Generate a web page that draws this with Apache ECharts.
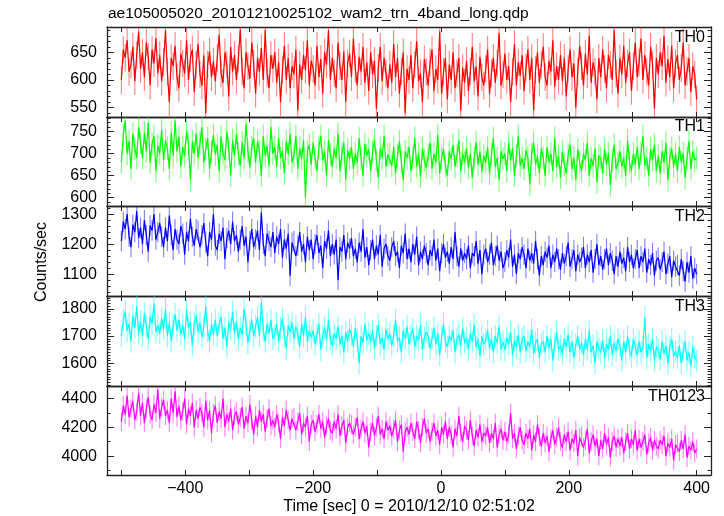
<!DOCTYPE html>
<html><head><meta charset="utf-8">
<script src="https://cdn.jsdelivr.net/npm/echarts@6/dist/echarts.min.js"></script>
<style>html,body{margin:0;padding:0;background:#fff}#c{width:724px;height:516px}</style>
</head><body><div id="c"></div>
<script>
// ---- data (1 value every 3 s) ----
const titleText = 'ae105005020_20101210025102_wam2_trn_4band_long.qdp';
const xAxisName = 'Time [sec] 0 = 2010/12/10 02:51:02';
const yAxisName = 'Counts/sec';
const binStart = -500, binStep = 3;
const panelNames = ['TH0', 'TH1', 'TH2', 'TH3', 'TH0123'];
const panelColors = ['#ff0000', '#00ff00', '#0000ff', '#00ffff', '#ff00ff'];
const xTicks = [-500, -400, -300, -200, -100, 0, 100, 200, 300, 400];
const xLabels = [-400, -200, 0, 200, 400];
const yRanges = [[533, 696], [581, 783], [1027, 1327], [1517, 1847], [3869, 4487]];
const yMajor = [[550, 600, 650], [600, 650, 700, 750], [1100, 1200, 1300], [1600, 1700, 1800], [4000, 4200, 4400]];
const yMinorStep = [10, 10, 20, 10, 100];
const errSize = [25, 26, 34, 41, 65];

const th0 = [
600,655,640,672,615,628,660,598,645,688,
620,650,605,668,642,590,655,630,676,612,
645,598,632,690,615,560,640,625,662,605,
585,648,630,612,672,600,640,655,578,628,
665,610,590,645,540,628,652,605,634,598,
640,682,612,595,650,628,570,660,615,645,
600,638,692,615,585,650,625,602,668,630,
575,640,615,658,600,690,612,585,645,620,
650,595,632,560,618,662,600,640,585,625,
610,655,545,628,600,645,618,672,590,635,
620,590,662,605,638,575,650,628,690,600,
640,612,585,668,625,600,652,560,630,648,
605,675,620,590,642,615,660,595,632,580,
650,610,635,548,622,660,598,640,612,585,
628,595,665,605,640,575,615,650,540,620,
600,645,585,628,670,598,612,560,638,615,
590,632,655,580,620,600,688,575,615,640,
565,628,600,650,585,612,640,545,622,595,
635,580,615,660,598,625,570,642,605,590,
620,655,575,612,640,595,630,685,590,610,
648,600,625,560,615,665,590,632,608,645,
580,622,655,600,640,545,618,650,595,628,
660,605,590,635,615,672,588,625,600,645,
598,640,570,620,655,605,630,550,615,662,
625,590,648,610,680,595,632,615,565,640,
605,655,620,585,645,628,600,690,612,575,
640,610,662,595,630,650,580,625,668,605,
632,675,600,645,615,590,660,628,548,640,
610,650,625,680,595,638,605,662,585,630,
645,600,622,668,590,615,640,578,625,610,
565];
const th1 = [
680,742,775,700,728,665,745,712,690,760,
725,690,748,705,770,680,722,740,660,718,
700,755,685,730,712,665,748,695,775,705,
738,670,715,695,752,720,640,728,700,745,
690,725,760,680,710,735,665,705,742,698,
720,660,738,700,685,750,712,650,730,695,
745,700,672,725,690,768,705,668,715,735,
680,728,705,650,740,695,718,672,760,700,
715,670,735,690,705,655,728,700,745,680,
695,740,665,712,688,730,600,705,720,675,
725,690,660,715,740,685,705,650,730,698,
670,712,690,745,660,700,725,640,708,688,
715,665,700,680,735,690,650,722,695,710,
660,705,730,685,645,712,690,740,670,698,
700,672,715,655,695,728,680,640,705,690,
715,660,690,735,670,700,648,712,685,668,
695,725,665,700,680,742,655,690,710,672,
650,705,688,720,670,695,730,660,700,680,
712,668,700,645,690,725,675,705,660,695,
680,715,655,698,735,670,690,640,705,688,
700,660,725,685,712,650,695,740,672,690,
665,708,690,630,700,725,675,695,655,712,
690,650,715,680,700,660,735,670,695,645,
705,675,655,698,720,665,690,640,710,680,
660,700,685,725,650,690,672,712,635,695,
690,655,710,675,700,628,685,720,665,680,
705,670,690,650,730,680,660,700,675,715,
665,700,740,672,690,650,710,685,720,660,
695,655,705,680,725,640,690,712,670,700,
660,715,680,700,645,690,728,665,705,685,
690];
const th2 = [
1210,1275,1250,1300,1225,1190,1265,1240,1310,1220,
1255,1200,1280,1230,1175,1262,1245,1300,1215,1240,
1270,1225,1190,1255,1210,1295,1230,1180,1250,1215,
1200,1260,1235,1165,1240,1210,1285,1225,1195,1250,
1245,1190,1230,1270,1205,1160,1240,1215,1300,1195,
1180,1235,1210,1255,1150,1220,1245,1200,1275,1210,
1230,1175,1215,1260,1195,1225,1140,1210,1250,1190,
1215,1245,1180,1305,1200,1160,1235,1210,1190,1240,
1170,1225,1200,1250,1155,1215,1185,1235,1095,1205,
1210,1160,1195,1240,1175,1200,1140,1225,1180,1215,
1150,1200,1230,1170,1195,1120,1210,1185,1245,1160,
1200,1165,1215,1080,1190,1175,1230,1150,1205,1185,
1220,1160,1185,1140,1205,1175,1250,1155,1190,1130,
1180,1215,1150,1195,1165,1230,1125,1185,1200,1160,
1145,1190,1210,1160,1175,1120,1195,1170,1235,1150,
1185,1140,1200,1165,1225,1130,1175,1150,1195,1170,
1130,1180,1160,1215,1145,1185,1110,1170,1200,1155,
1175,1135,1190,1150,1240,1160,1125,1185,1145,1170,
1150,1195,1120,1170,1160,1210,1135,1180,1100,1165,
1185,1140,1165,1205,1130,1160,1195,1145,1175,1120,
1140,1180,1155,1215,1125,1165,1100,1170,1150,1190,
1165,1120,1185,1145,1170,1135,1210,1150,1095,1160,
1130,1175,1155,1195,1120,1165,1140,1185,1150,1115,
1170,1135,1160,1205,1125,1150,1180,1110,1165,1140,
1155,1190,1120,1165,1140,1180,1105,1150,1200,1130,
1160,1115,1150,1185,1130,1170,1145,1100,1160,1125,
1175,1135,1155,1110,1190,1140,1165,1120,1150,1180,
1120,1160,1140,1185,1105,1150,1130,1170,1095,1145,
1155,1115,1140,1175,1100,1135,1160,1090,1145,1125,
1130,1095,1150,1110,1075,1140,1105,1160,1085,1120,
1100];
const th3 = [
1700,1760,1790,1720,1745,1680,1775,1730,1810,1710,
1755,1700,1785,1735,1690,1770,1745,1820,1715,1740,
1710,1765,1725,1800,1700,1750,1680,1740,1780,1720,
1760,1705,1740,1690,1795,1730,1750,1665,1745,1775,
1715,1750,1695,1735,1810,1720,1680,1745,1705,1760,
1700,1745,1770,1690,1730,1660,1750,1725,1790,1710,
1755,1690,1730,1705,1800,1740,1675,1720,1760,1700,
1735,1770,1700,1825,1720,1680,1745,1710,1760,1690,
1705,1745,1680,1730,1765,1700,1655,1740,1715,1750,
1690,1735,1710,1660,1745,1700,1770,1680,1720,1695,
1720,1670,1705,1745,1650,1700,1730,1685,1760,1690,
1665,1710,1690,1735,1670,1700,1640,1715,1680,1725,
1705,1660,1730,1690,1600,1700,1675,1745,1685,1710,
1680,1720,1655,1700,1740,1670,1695,1650,1725,1690,
1710,1665,1700,1760,1680,1695,1640,1720,1690,1735,
1670,1705,1725,1660,1700,1685,1740,1650,1695,1715,
1700,1655,1690,1730,1670,1710,1630,1695,1745,1680,
1660,1700,1685,1720,1640,1690,1705,1665,1730,1675,
1695,1650,1710,1680,1740,1660,1690,1625,1700,1670,
1685,1720,1655,1690,1640,1700,1675,1735,1650,1680,
1650,1695,1670,1715,1630,1685,1660,1705,1640,1690,
1700,1645,1680,1660,1725,1635,1675,1690,1620,1670,
1680,1640,1700,1655,1690,1610,1670,1715,1650,1665,
1635,1690,1660,1705,1640,1680,1620,1670,1700,1650,
1675,1630,1690,1650,1720,1640,1665,1600,1680,1655,
1640,1685,1620,1670,1650,1700,1630,1675,1645,1690,
1665,1610,1680,1640,1700,1650,1625,1690,1660,1630,
1680,1640,1660,1770,1620,1670,1645,1690,1610,1660,
1650,1615,1680,1635,1665,1600,1660,1690,1625,1645,
1620,1665,1600,1645,1680,1610,1640,1590,1660,1625,
1610];
const th0123 = [
4240,4350,4290,4420,4270,4330,4380,4250,4310,4440,
4280,4370,4230,4330,4410,4290,4250,4360,4300,4460,
4260,4340,4390,4280,4320,4230,4400,4300,4450,4270,
4350,4250,4310,4400,4220,4330,4280,4370,4200,4320,
4260,4340,4300,4200,4380,4250,4320,4160,4300,4350,
4230,4310,4260,4400,4200,4290,4240,4330,4180,4280,
4310,4220,4270,4340,4190,4280,4230,4360,4250,4150,
4280,4200,4320,4240,4290,4170,4260,4330,4210,4250,
4200,4290,4230,4120,4270,4210,4320,4250,4180,4260,
4270,4180,4240,4300,4150,4230,4200,4280,4100,4220,
4250,4170,4220,4290,4190,4240,4130,4210,4260,4180,
4160,4240,4190,4290,4140,4210,4250,4090,4200,4230,
4220,4150,4200,4270,4120,4190,4240,4160,4210,4060,
4170,4230,4140,4200,4280,4150,4190,4120,4240,4180,
4210,4140,4190,4250,4100,4180,4220,4030,4170,4200,
4150,4230,4170,4120,4240,4180,4090,4200,4260,4160,
4190,4100,4170,4230,4140,4180,4080,4200,4150,4240,
4120,4200,4150,4060,4190,4140,4280,4160,4100,4210,
4180,4110,4250,4140,4070,4180,4130,4220,4100,4160,
4140,4200,4090,4160,4120,4230,4060,4150,4190,4110,
4170,4100,4150,4300,4120,4160,4050,4140,4200,4110,
4080,4160,4120,4190,4040,4150,4100,4220,4130,4070,
4160,4090,4140,4030,4120,4180,4080,4130,4200,4100,
4060,4150,4100,4170,4040,4120,4090,4180,4000,4130,
4140,4060,4110,4190,4020,4100,4150,4070,4120,4000,
4110,4050,4160,4080,4130,3990,4100,4140,4060,4120,
4070,4130,4020,4100,4160,4050,4120,4080,4180,4040,
4120,4060,4100,4150,4010,4090,4130,4040,4110,4070,
4050,4110,4080,4140,4000,4090,4060,4120,3970,4080,
4090,4030,4110,4050,4150,3990,4070,4040,4100,4020,
4050];
const seriesValues = [th0, th1, th2, th3, th0123];

// ---- layout ----
const FONT = '"Liberation Sans", Helvetica, Arial, sans-serif';
const gridTops = [27, 117, 206, 296, 386];
const gridHeights = [90, 89, 90, 90, 90];
const GL = 107, GR = 13;
const XMIN = -522.5, XMAX = 422.5;

function minorList(gi) {
  const out = [];
  const [a, b] = yRanges[gi];
  const s = yMinorStep[gi];
  for (let v = Math.ceil(a / s) * s; v <= b; v += s) out.push(v);
  return out;
}
const fmtX = v => (v < 0 ? '\u2212' + (-v) : String(v));
const fmtY = v => String(v);

const grid = [], xAxis = [], yAxis = [], series = [];
for (let gi = 0; gi < 5; gi++) {
  grid.push({left: GL, right: GR, top: gridTops[gi], height: gridHeights[gi], show: false});
  const last = gi === 4;
  ['bottom', 'top'].forEach((pos, k) => {
    xAxis.push({
      type: 'value', gridIndex: gi, position: pos, min: XMIN, max: XMAX,
      axisLine: {show: true, onZero: false, lineStyle: {color: '#222', width: 1.3}},
      axisTick: {show: true, inside: true, length: 5, customValues: xTicks, lineStyle: {color: '#222', width: 1}},
      axisLabel: {show: last && k === 0, customValues: xLabels, formatter: fmtX, margin: 6,
        color: '#000', fontSize: 16, fontFamily: FONT},
      splitLine: {show: false},
      name: (last && k === 0) ? xAxisName : '', nameLocation: 'middle', nameGap: 24,
      nameTextStyle: {color: '#000', fontSize: 16, fontFamily: FONT}
    });
  });
  const [ymin, ymax] = yRanges[gi];
  ['left', 'right'].forEach(pos => {
    yAxis.push({
      type: 'value', gridIndex: gi, position: pos, min: ymin, max: ymax,
      axisLine: {show: true, onZero: false, lineStyle: {color: '#222', width: 1.3}},
      axisTick: {show: true, inside: true, length: 7, customValues: yMajor[gi], lineStyle: {color: '#222'}},
      axisLabel: {show: pos === 'left', customValues: yMajor[gi], formatter: fmtY, margin: 10,
        color: '#000', fontSize: 16, fontFamily: FONT},
      splitLine: {show: false}
    });
    yAxis.push({
      type: 'value', gridIndex: gi, position: pos, min: ymin, max: ymax,
      axisLine: {show: false, onZero: false},
      axisTick: {show: true, inside: true, length: 3.5, customValues: minorList(gi), lineStyle: {color: '#222'}},
      axisLabel: {show: false}, splitLine: {show: false}
    });
  });
  const data = seriesValues[gi].map((v, i) => [binStart + i * binStep, v]);
  const col = panelColors[gi];
  const err = errSize[gi];
  series.push({
    type: 'custom', xAxisIndex: gi * 2, yAxisIndex: gi * 4, clip: true, silent: true,
    data: data,
    renderItem: (params, api) => {
      const x = api.value(0), y = api.value(1);
      const p1 = api.coord([x, y - err]), p2 = api.coord([x, y + err]);
      return {type: 'line', shape: {x1: p1[0], y1: p1[1], x2: p2[0], y2: p2[1]},
        style: {stroke: col, opacity: 0.5, lineWidth: 1.1}};
    }
  });
  series.push({
    type: 'line', xAxisIndex: gi * 2, yAxisIndex: gi * 4, data: data,
    symbol: 'none', clip: true, silent: true,
    lineStyle: {color: col, width: 1.2}
  });
}

const graphic = [
  {type: 'text', left: 108, top: 6, style: {text: titleText, fill: '#000', font: '15.5px ' + FONT}},
  {type: 'text', x: 42, y: 262, rotation: Math.PI / 2,
    style: {text: yAxisName, fill: '#000', font: '16px ' + FONT, align: 'center', verticalAlign: 'middle'}}
];
const labelY = [37.5, 127, 217, 307, 397];
panelNames.forEach((n, i) => graphic.push({
  type: 'text', x: 705, y: labelY[i],
  style: {text: n, fill: '#000', font: '16px ' + FONT, align: 'right', verticalAlign: 'middle'}
}));

const chart = echarts.init(document.getElementById('c'), null, {renderer: 'canvas'});
chart.setOption({animation: false, backgroundColor: '#fff', grid, xAxis, yAxis, series, graphic});
</script></body></html>
